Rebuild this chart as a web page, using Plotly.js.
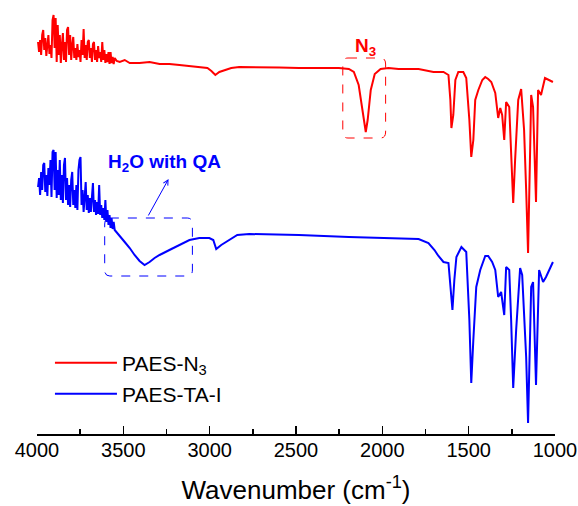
<!DOCTYPE html>
<html>
<head>
<meta charset="utf-8">
<script src="https://cdn.plot.ly/plotly-3.0.1.min.js"></script>
<style>html,body{margin:0;padding:0;background:#fff;}#chart{width:578px;height:506px;}</style>
</head>
<body>
<div id="chart"></div>
<script>
// PAES-N3 (red) wavenumber / transmittance (a.u.)
const redWavenumber = [3994,3988,3982,3976,3970,3964,3958,3952,3946,3940,3934,3928,3922,3916,3910,3904,3898,3892,3886,3880,3874,3868,3862,3856,3850,3844,3838,3832,3826,3820,3814,3808,3802,3796,3790,3784,3778,3772,3766,3760,3754,3748,3742,3736,3730,3724,3718,3712,3706,3700,3694,3688,3682,3676,3670,3664,3658,3652,3646,3640,3634,3628,3622,3616,3610,3604,3598,3592,3586,3580,3574,3568,3562,3556,3550,
  3538,3521,3492,3463,3406,3348,3290,3233,3175,3117,3060,3013,2990,2967,2944,2915,2875,2829,2713,2598,2483,2367,2252,2194,2165,2137,2119,2102,2096,2085,2067,2044,2010,1964,1906,1790,1733,1704,1646,1617,1606,1600,1589,1577,1560,1531,1514,1496,1485,1473,1462,1444,1421,1404,1387,1369,1346,1329,1317,1306,1294,1283,1265,1254,1242,1231,1213,1196,1179,1167,1156,1144,1138,1127,1110,1098,1081,1058,1035,1012];
const redTransmittance = [458,448,460,445,465,470,450,462,444,458,465,446,455,442,480,485,452,482,438,475,445,465,437,455,467,440,458,438,470,473,445,465,440,455,463,442,452,440,456,443,450,438,460,445,471,442,455,440,458,460,442,452,438,456,458,440,450,438,454,442,448,438,458,440,450,437,446,438,448,436,448,437,443,436,442,
  439,438,440,437,437,438,436,436,435,434,433,432,429,425,428,430,432,433,433,432.5,432,432,432,431,428,415,395,372,368,380,410,426,431,432,431,431,429,428,428,425,400,372,385,420,428,428,422,380,343,360,400,410,420,423,421,418,407,382,392,385,360,398,393,350,297,340,400,411,370,310,247,350,405,393,298,410,405,422,420,418];
// PAES-TA-I (blue)
const blueWavenumber = [3994,3988,3982,3976,3970,3964,3958,3952,3946,3940,3934,3928,3922,3916,3910,3904,3898,3892,3886,3880,3874,3868,3862,3856,3850,3844,3838,3832,3826,3820,3814,3808,3802,3796,3790,3784,3778,3772,3766,3760,3754,3748,3742,3736,3730,3724,3718,3712,3706,3700,3694,3688,3682,3676,3670,3664,3658,3652,3646,3640,3634,3628,3622,3616,3610,3604,3598,3592,3586,3580,3574,3568,3562,3556,3550,
  3538,3521,3492,3463,3435,3406,3377,3348,3319,3290,3233,3175,3117,3060,3002,2979,2962,2933,2887,2840,2771,2483,2194,1906,1790,1733,1698,1675,1646,1617,1606,1594,1583,1571,1542,1514,1496,1485,1473,1456,1433,1404,1387,1364,1346,1329,1312,1294,1283,1265,1254,1242,1225,1202,1190,1179,1167,1156,1144,1138,1127,1110,1092,1069,1052,1029,1012];
const blueTransmittance = [313,322,305,328,310,335,337,308,325,304,332,315,340,303,348,350,310,348,302,330,305,340,300,325,297,335,342,300,322,295,315,293,320,328,295,310,292,315,290,330,340,343,295,310,288,308,318,290,305,287,302,288,305,317,288,300,285,298,286,315,285,295,282,292,280,300,278,290,275,285,272,282,271,278,270,
  267,264,258,252,245,239,235,238,242,245,250,255,260,262,262,260,251,255,260,265,266,265,263,262,261,257,250,244,238,237,215,190,220,243,253,248,180,117,160,213,230,244,244,238,230,203,208,185,233,230,180,112,170,232,225,183,143,77,170,213,218,115,230,218,223,232,238];
const seriesNames = ["PAES-N<sub>3</sub>", "PAES-TA-I"];
const xTickVals = [4000,3500,3000,2500,2000,1500,1000];

const traces = [
  {x: redWavenumber, y: redTransmittance, name: seriesNames[0], type: 'scatter', mode: 'lines',
   line: {color: '#ff0000', width: 2}, legend: 'legend'},
  {x: blueWavenumber, y: blueTransmittance, name: seriesNames[1], type: 'scatter', mode: 'lines',
   line: {color: '#0000ff', width: 2}, legend: 'legend2'}
];

function roundedBox(x0, x1, y0, y1, rx, ry) {
  return `M${x0+rx},${y1} L${x1-rx},${y1} Q${x1},${y1} ${x1},${y1-ry} L${x1},${y0+ry} Q${x1},${y0} ${x1-rx},${y0} L${x0+rx},${y0} Q${x0},${y0} ${x0},${y0+ry} L${x0},${y1-ry} Q${x0},${y1} ${x0+rx},${y1} Z`;
}

const legendBase = {xanchor: 'left', yanchor: 'top', bgcolor: 'rgba(0,0,0,0)',
                    font: {size: 21, color: '#000'}, itemwidth: 62};

const layout = {
  width: 578, height: 506,
  margin: {l: 37, r: 23, t: 10, b: 72},
  paper_bgcolor: '#fff', plot_bgcolor: '#fff',
  font: {family: 'Arial, "Liberation Sans", sans-serif', color: '#000'},
  showlegend: true,
  legend: Object.assign({x: 0.025, y: 0.2156}, legendBase),
  legend2: Object.assign({x: 0.025, y: 0.1425}, legendBase),
  xaxis: {
    range: [4000, 1000], tickvals: xTickVals, ticks: 'inside', ticklen: 8, tickwidth: 1.5,
    tickcolor: '#000', showline: true, linecolor: '#000', linewidth: 1.5, showgrid: false,
    zeroline: false, tickfont: {size: 20}, ticklabeloverflow: 'allow', ticklabelstandoff: -3,
    minor: {ticks: 'inside', dtick: 250, tick0: 0, ticklen: 5, tickwidth: 1.5, tickcolor: '#000', showgrid: false},
    title: {text: 'Wavenumber (cm<sup>-1</sup>)', font: {size: 26}, standoff: 21}
  },
  yaxis: {range: [66, 490], visible: false, showgrid: false, zeroline: false},
  shapes: [
    {type: 'path', xref: 'x', yref: 'y', path: roundedBox(2229, 1981, 362, 442, -30, 6),
     line: {color: '#ff0000', width: 1, dash: 'dash'}},
    {type: 'path', xref: 'x', yref: 'y', path: roundedBox(3608, 3100, 224, 282, -30, 6),
     line: {color: '#0000ff', width: 1, dash: 'dash'}}
  ],
  annotations: [
    {x: 2096, y: 453, xref: 'x', yref: 'y', text: '<b>N<sub>3</sub></b>', showarrow: false,
     font: {size: 19, color: '#ff0000'}},
    {x: 3262, y: 337, xref: 'x', yref: 'y', text: '<b>H<sub>2</sub>O with QA</b>', showarrow: false,
     font: {size: 19, color: '#0000ff'}},
    {x: 3238, y: 321, ax: 3360, ay: 283, xref: 'x', yref: 'y', axref: 'x', ayref: 'y', text: '',
     showarrow: true, arrowhead: 5, arrowsize: 1, arrowwidth: 1, arrowcolor: '#0000ff'}
  ]
};

Plotly.newPlot('chart', traces, layout, {displayModeBar: false, staticPlot: true});
</script>
</body>
</html>
